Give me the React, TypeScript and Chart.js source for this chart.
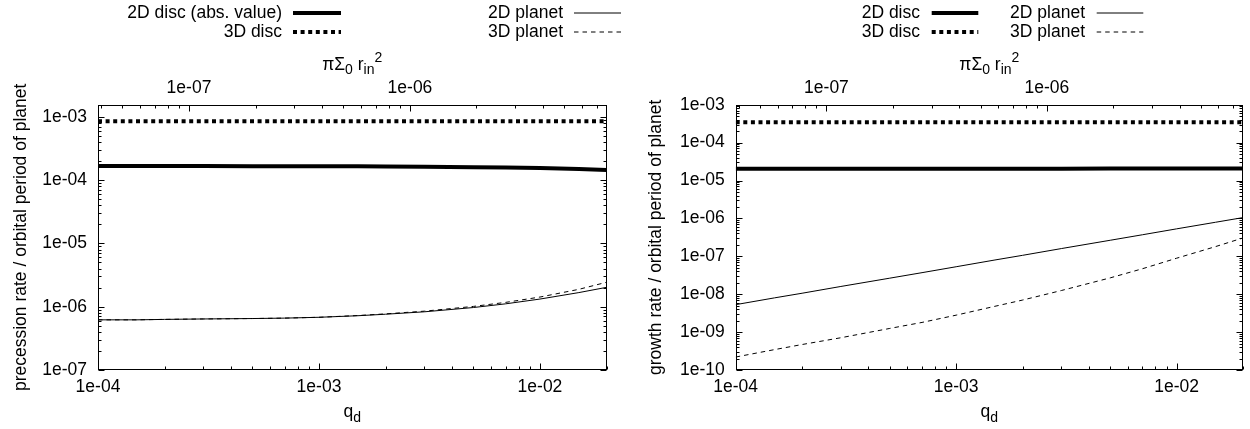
import { useEffect, useRef } from 'react';
import { Chart, registerables } from 'chart.js';

Chart.register(...registerables);

const FONT = '"Liberation Sans", Arial, Helvetica, sans-serif';
const FS = 17.5;

// ---------- data ----------
const qValues = [1e-4, 1.5e-4, 2e-4, 3e-4, 5e-4, 7e-4, 1e-3, 1.5e-3, 2e-3, 3e-3, 5e-3, 7e-3, 1e-2, 1.5e-2, 2e-2];

// left panel: precession rate
const precession2DDisc = [1.67e-4, 1.67e-4, 1.67e-4, 1.67e-4, 1.66e-4, 1.66e-4, 1.65e-4, 1.65e-4, 1.64e-4, 1.63e-4, 1.6e-4, 1.58e-4, 1.55e-4, 1.49e-4, 1.44e-4];
const precession3DDisc = [8.5e-4, 8.5e-4, 8.5e-4, 8.5e-4, 8.5e-4, 8.5e-4, 8.5e-4, 8.5e-4, 8.5e-4, 8.5e-4, 8.5e-4, 8.5e-4, 8.5e-4, 8.5e-4, 8.5e-4];
const precession2DPlanet = [6.2e-7, 6.2e-7, 6.3e-7, 6.4e-7, 6.5e-7, 6.6e-7, 6.8e-7, 7.2e-7, 7.6e-7, 8.3e-7, 9.7e-7, 1.11e-6, 1.32e-6, 1.67e-6, 2.02e-6];
const precession3DPlanet = [6.2e-7, 6.2e-7, 6.3e-7, 6.4e-7, 6.5e-7, 6.6e-7, 6.8e-7, 7.25e-7, 7.7e-7, 8.5e-7, 1.01e-6, 1.17e-6, 1.42e-6, 1.88e-6, 2.43e-6];

// right panel: growth rate
const growth2DDisc = [2.04e-5, 2.04e-5, 2.04e-5, 2.04e-5, 2.04e-5, 2.04e-5, 2.05e-5, 2.05e-5, 2.05e-5, 2.05e-5, 2.06e-5, 2.06e-5, 2.07e-5, 2.07e-5, 2.08e-5];
const growth3DDisc = [3.45e-4, 3.45e-4, 3.45e-4, 3.45e-4, 3.45e-4, 3.45e-4, 3.45e-4, 3.45e-4, 3.45e-4, 3.45e-4, 3.45e-4, 3.45e-4, 3.45e-4, 3.45e-4, 3.45e-4];
const growth2DPlanet = [5.3e-9, 8e-9, 1.06e-8, 1.6e-8, 2.65e-8, 3.7e-8, 5.3e-8, 8e-8, 1.06e-7, 1.6e-7, 2.65e-7, 3.7e-7, 5.3e-7, 7.9e-7, 1.05e-6];
const growth3DPlanet = [2.2e-10, 3.45e-10, 4.7e-10, 7.1e-10, 1.25e-9, 1.8e-9, 2.8e-9, 4.8e-9, 7e-9, 1.25e-8, 2.7e-8, 4.7e-8, 8.9e-8, 1.8e-7, 3.05e-7];

// ---------- axes ----------
const qMin = 1e-4;
const qMax = 2e-2;
const qMajorTicks = [1e-4, 1e-3, 1e-2];
const topMin = 3.875e-8;
const topMax = 7.75e-6;
const topMajorTicks = [1e-8, 1e-7, 1e-6];
const precessionMin = 1e-7;
const precessionMax = 1.55e-3;
const precessionMajorTicks = [1e-7, 1e-6, 1e-5, 1e-4, 1e-3];
const growthMin = 1e-10;
const growthMax = 1e-3;
const growthMajorTicks = [1e-10, 1e-9, 1e-8, 1e-7, 1e-6, 1e-5, 1e-4, 1e-3];

const leftLabels = ['2D disc (abs. value)', '3D disc', '2D planet', '3D planet'];
const rightLabels = ['2D disc', '3D disc', '2D planet', '3D planet'];

function isDecade(v: number) {
  const l = Math.log10(v);
  return Math.abs(l - Math.round(l)) < 1e-6;
}
function fmtExp(v: number) {
  const e = Math.round(Math.log10(v));
  return `1e${e < 0 ? '-' : '+'}${String(Math.abs(e)).padStart(2, '0')}`;
}
function expandTicks(majors: number[], min: number, max: number) {
  const out: number[] = [];
  for (const m of majors) {
    for (let k = 1; k <= 9; k++) {
      const v = m * k;
      if (v >= min * (1 - 1e-9) && v <= max * (1 + 1e-9)) out.push(v);
    }
  }
  return out;
}

type Part = { text: string; small?: boolean; dy: number };
function drawRich(ctx: CanvasRenderingContext2D, parts: Part[], cx: number, baseline: number) {
  let total = 0;
  const widths = parts.map((p) => {
    ctx.font = `${p.small ? FS * 0.8 : FS}px ${FONT}`;
    const w = ctx.measureText(p.text).width;
    total += w;
    return w;
  });
  let x = cx - total / 2;
  ctx.textAlign = 'left';
  ctx.textBaseline = 'alphabetic';
  ctx.fillStyle = '#000';
  parts.forEach((p, i) => {
    ctx.font = `${p.small ? FS * 0.8 : FS}px ${FONT}`;
    ctx.fillText(p.text, x, baseline + p.dy);
    x += widths[i];
  });
}

const topTitle: Part[] = [
  { text: 'πΣ', dy: 0 },
  { text: '0', small: true, dy: 4 },
  { text: ' r', dy: 0 },
  { text: 'in', small: true, dy: 4 },
  { text: '2', small: true, dy: -8 },
];
const bottomTitle: Part[] = [
  { text: 'q', dy: 0 },
  { text: 'd', small: true, dy: 5 },
];

type Slot = { textRight: number; x0: number; x1: number; y: number };
type Series = { label: string; values: number[]; width: number; dash: number[] };
type PanelCfg = {
  yTitle: string;
  yMin: number;
  yMax: number;
  yMajors: number[];
  yAxisWidth: number;
  rightPad: number;
  titlePad: number;
  series: Series[];
  slots: Slot[];
};

function makeChart(canvas: HTMLCanvasElement, cfg: PanelCfg) {
  const font = { family: FONT, size: FS };
  const xTicks = expandTicks(qMajorTicks, qMin, qMax);
  const x2Ticks = expandTicks(topMajorTicks, topMin, topMax);
  const yTicks = expandTicks(cfg.yMajors, cfg.yMin, cfg.yMax);
  const setTicks = (vals: number[]) => (scale: any) => {
    scale.ticks = vals.map((v) => ({ value: v }));
  };
  const label = (v: any) => (isDecade(Number(v)) ? fmtExp(Number(v)) : '');

  const decor = {
    id: 'panelDecor',
    afterDraw(chart: any) {
      const { ctx, chartArea: a, scales } = chart;
      ctx.save();
      ctx.strokeStyle = '#000';
      ctx.lineWidth = 1;
      ctx.setLineDash([]);
      const L = Math.round(a.left) + 0.5;
      const R = Math.round(a.right) - 0.5;
      const T = Math.round(a.top) + 0.5;
      const B = Math.round(a.bottom) - 0.5;
      ctx.strokeRect(L, T, R - L, B - T);
      ctx.beginPath();
      for (const t of scales.x.ticks) {
        const px = Math.round(scales.x.getPixelForValue(t.value)) + 0.5;
        const len = isDecade(t.value) ? 6 : 3;
        ctx.moveTo(px, B);
        ctx.lineTo(px, B - len);
      }
      for (const t of scales.x2.ticks) {
        const px = Math.round(scales.x2.getPixelForValue(t.value)) + 0.5;
        const len = isDecade(t.value) ? 6 : 3;
        ctx.moveTo(px, T);
        ctx.lineTo(px, T + len);
      }
      for (const t of scales.y.ticks) {
        const py = Math.round(scales.y.getPixelForValue(t.value)) + 0.5;
        const len = isDecade(t.value) ? 6 : 3;
        ctx.moveTo(L, py);
        ctx.lineTo(L + len, py);
        ctx.moveTo(R, py);
        ctx.lineTo(R - len, py);
      }
      ctx.stroke();

      const cx = (a.left + a.right) / 2;
      drawRich(ctx, topTitle, cx, 70);
      drawRich(ctx, bottomTitle, cx, 417);

      chart.data.datasets.forEach((ds: any, i: number) => {
        const s = cfg.slots[i];
        ctx.font = `${FS}px ${FONT}`;
        ctx.fillStyle = '#000';
        ctx.textAlign = 'right';
        ctx.textBaseline = 'middle';
        ctx.fillText(ds.label, s.textRight, s.y);
        ctx.lineWidth = ds.borderWidth;
        ctx.lineCap = 'butt';
        ctx.setLineDash(ds.borderDash || []);
        ctx.beginPath();
        const yy = ds.borderWidth > 1 ? Math.round(s.y) : Math.round(s.y);
        ctx.moveTo(s.x0, yy);
        ctx.lineTo(s.x1, yy);
        ctx.stroke();
      });
      ctx.restore();
    },
  };

  return new Chart(canvas, {
    type: 'line',
    data: {
      datasets: cfg.series.map((s) => ({
        label: s.label,
        data: qValues.map((q, i) => ({ x: q, y: s.values[i] })),
        borderColor: '#000',
        backgroundColor: '#000',
        borderWidth: s.width,
        borderDash: s.dash,
        borderCapStyle: 'butt',
        pointRadius: 0,
        fill: false,
        tension: 0,
        xAxisID: 'x',
        yAxisID: 'y',
      })),
    },
    options: {
      responsive: false,
      animation: false,
      devicePixelRatio: 1,
      layout: { padding: { left: 0, top: 0, bottom: 0, right: cfg.rightPad } },
      plugins: { legend: { display: false }, tooltip: { enabled: false } },
      scales: {
        x: {
          type: 'logarithmic',
          position: 'bottom',
          min: qMin,
          max: qMax,
          afterBuildTicks: setTicks(xTicks),
          afterFit: (s: any) => {
            s.height = 59;
          },
          grid: { display: false, drawTicks: false },
          border: { display: false },
          ticks: { callback: label, autoSkip: false, maxRotation: 0, minRotation: 0, padding: 7, color: '#000', font },
        },
        x2: {
          type: 'logarithmic',
          position: 'top',
          min: topMin,
          max: topMax,
          afterBuildTicks: setTicks(x2Ticks),
          afterFit: (s: any) => {
            s.height = 104.7;
          },
          grid: { display: false, drawTicks: false },
          border: { display: false },
          ticks: { callback: label, autoSkip: false, maxRotation: 0, minRotation: 0, padding: 5.7, color: '#000', font },
        },
        y: {
          type: 'logarithmic',
          position: 'left',
          min: cfg.yMin,
          max: cfg.yMax,
          afterBuildTicks: setTicks(yTicks),
          afterFit: (s: any) => {
            s.width = cfg.yAxisWidth;
          },
          grid: { display: false, drawTicks: false },
          border: { display: false },
          title: { display: true, text: cfg.yTitle, color: '#000', font, padding: { top: cfg.titlePad, bottom: 0 } },
          ticks: { callback: label, autoSkip: false, padding: 11, color: '#000', font },
        },
      },
    } as any,
    plugins: [decor],
  });
}

const leftCfg: PanelCfg = {
  yTitle: 'precession rate / orbital period of planet',
  yMin: precessionMin,
  yMax: precessionMax,
  yMajors: precessionMajorTicks,
  yAxisWidth: 98,
  rightPad: 18.5,
  titlePad: 10.5,
  series: [
    { label: leftLabels[0], values: precession2DDisc, width: 4, dash: [] },
    { label: leftLabels[1], values: precession3DDisc, width: 4, dash: [4, 3.6] },
    { label: leftLabels[2], values: precession2DPlanet, width: 1, dash: [] },
    { label: leftLabels[3], values: precession3DPlanet, width: 1, dash: [4.5, 4] },
  ],
  slots: [
    { textRight: 282, x0: 293, x1: 341, y: 13.3 },
    { textRight: 282, x0: 293, x1: 341, y: 31.7 },
    { textRight: 563, x0: 574, x1: 621, y: 13.3 },
    { textRight: 563, x0: 574, x1: 621, y: 31.7 },
  ],
};

const rightCfg: PanelCfg = {
  yTitle: 'growth rate / orbital period of planet',
  yMin: growthMin,
  yMax: growthMax,
  yMajors: growthMajorTicks,
  yAxisWidth: 110.7,
  rightPad: 6,
  titlePad: 20.5,
  series: [
    { label: rightLabels[0], values: growth2DDisc, width: 4, dash: [] },
    { label: rightLabels[1], values: growth3DDisc, width: 4, dash: [4, 3.6] },
    { label: rightLabels[2], values: growth2DPlanet, width: 1, dash: [] },
    { label: rightLabels[3], values: growth3DPlanet, width: 1, dash: [4.5, 4] },
  ],
  slots: [
    { textRight: 295, x0: 306.7, x1: 353.3, y: 13.3 },
    { textRight: 295, x0: 306.7, x1: 353.3, y: 31.7 },
    { textRight: 460, x0: 471.7, x1: 518.3, y: 13.3 },
    { textRight: 460, x0: 471.7, x1: 518.3, y: 31.7 },
  ],
};

function Panel({ cfg }: { cfg: PanelCfg }) {
  const ref = useRef<HTMLCanvasElement>(null);
  useEffect(() => {
    if (!ref.current) return;
    const chart = makeChart(ref.current, cfg);
    return () => chart.destroy();
  }, [cfg]);
  return <canvas ref={ref} width={625} height={429} style={{ display: 'block', width: 625, height: 429 }} />;
}

export default function App() {
  return (
    <div style={{ position: 'absolute', left: 0, top: 0, width: 1250, height: 429, display: 'flex', background: '#fff' }}>
      <Panel cfg={leftCfg} />
      <Panel cfg={rightCfg} />
    </div>
  );
}
